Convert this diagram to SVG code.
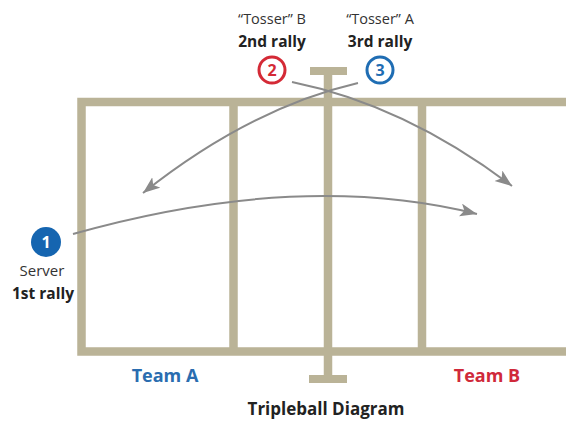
<svg xmlns="http://www.w3.org/2000/svg" width="566" height="422" viewBox="0 0 566 422">
<style>
.court{stroke:#bab397;stroke-width:8.5;fill:none}
.post{fill:#bab397}
.t{font-family:"Open Sans","Liberation Sans",sans-serif;text-anchor:middle;fill:#333}
.b{font-weight:bold;fill:#222}
.arr{fill:none;stroke:#8a8a8a;stroke-width:2}
</style>
<defs>
<marker id="ah" markerUnits="userSpaceOnUse" markerWidth="20" markerHeight="14" refX="17" refY="6.5" orient="auto">
<path d="M0,0 L17,6.5 L0,13 L4,6.5 Z" fill="#8a8a8a"/>
</marker>
</defs>
<rect width="566" height="422" fill="#fff"/>
<g id="court">
<path class="court" d="M570,102 H81.5 V351.5 H570"/>
<line class="court" x1="233.5" y1="102" x2="233.5" y2="351"/>
<line class="court" x1="422" y1="102" x2="422" y2="351"/>
<line class="court" x1="328" y1="72" x2="328" y2="380"/>
<rect class="post" x="310" y="67" width="37" height="8"/>
<rect class="post" x="309" y="375" width="38" height="8"/>
</g>
<g id="connectors">
<path class="arr" d="M292,82 Q405,105 512,186" marker-end="url(#ah)"/>
<path class="arr" d="M358,83 Q250,108 143,193" marker-end="url(#ah)"/>
<path class="arr" d="M73,234 Q300,170 477,214" marker-end="url(#ah)"/>
</g>
<g id="node-tosser-b">
<text class="t" x="272" y="24" font-size="14.5">“Tosser” B</text>
<text class="t b" x="272" y="47" font-size="15.5">2nd rally</text>
<circle cx="272" cy="70" r="13" fill="#fff" stroke="#d42a36" stroke-width="3"/>
<text class="t b" x="272" y="76" font-size="16" style="fill:#d42a36">2</text>
</g>
<g id="node-tosser-a">
<text class="t" x="380" y="24" font-size="14.5">“Tosser” A</text>
<text class="t b" x="380" y="47" font-size="15.5">3rd rally</text>
<circle cx="380" cy="70" r="13" fill="#fff" stroke="#1f6db3" stroke-width="3"/>
<text class="t b" x="380" y="76" font-size="16" style="fill:#1f6db3">3</text>
</g>
<g id="node-server">
<circle cx="46" cy="242" r="15" fill="#1565b0"/>
<text class="t b" x="46" y="248" font-size="16" style="fill:#fff">1</text>
<text class="t" x="42" y="276" font-size="15">Server</text>
<text class="t b" x="43" y="299" font-size="15.5">1st rally</text>
</g>
<g id="labels">
<text class="t b" x="165" y="382" font-size="18" style="fill:#2a6db0">Team A</text>
<text class="t b" x="487" y="382" font-size="18" style="fill:#d0293a">Team B</text>
<text class="t b" x="326" y="415" font-size="17">Tripleball Diagram</text>
</g>
</svg>
